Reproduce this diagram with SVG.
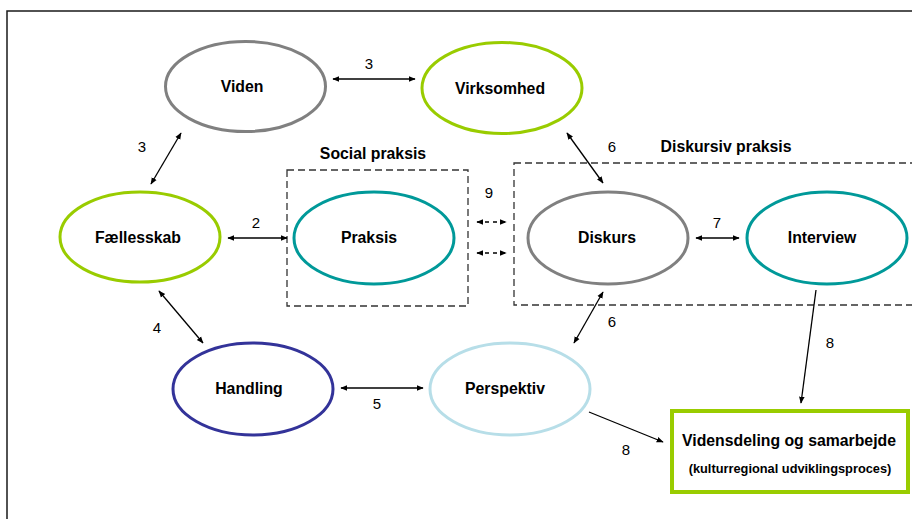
<svg xmlns="http://www.w3.org/2000/svg" width="912" height="519" viewBox="0 0 912 519">
  <style>
    .node { fill: #ffffff; stroke-width: 3; }
    .label { font-family: "Liberation Sans", Arial, sans-serif; font-weight: bold; font-size: 15.8px; fill: #000000; text-anchor: middle; }
    .num { font-family: "Liberation Sans", Arial, sans-serif; font-size: 15px; fill: #000000; text-anchor: middle; }
    .conn { stroke: #000000; stroke-width: 1.3; fill: none; }
    .dash { stroke-dasharray: 4 4; }
    .frame { fill: none; stroke: #333333; stroke-width: 1.3; stroke-dasharray: 7 4; }
  </style>
  <defs>
    <marker id="ah" viewBox="0 0 10 10" refX="9" refY="5" markerWidth="7" markerHeight="7" markerUnits="userSpaceOnUse" orient="auto-start-reverse">
      <path d="M0,1 L10,5 L0,9 Z" fill="#000000"/>
    </marker>
  </defs>

  <rect width="912" height="519" fill="#ffffff"/>
  <!-- page border -->
  <path d="M7,519 L7,11 L912,11" fill="none" stroke="#1a1a1a" stroke-width="1.5"/>

  <!-- grouping frames -->
  <g id="social-praksis">
    <rect class="frame" x="287" y="170" width="181" height="136"/>
    <text class="label" x="373" y="159">Social praksis</text>
  </g>
  <g id="diskursiv-praksis">
    <rect class="frame" x="514" y="163" width="420" height="142"/>
    <text class="label" x="726" y="152">Diskursiv praksis</text>
  </g>

  <g id="viden">
    <ellipse class="node" cx="245.5" cy="86.5" rx="80" ry="45" stroke="#808080"/>
    <text class="label" x="242" y="92">Viden</text>
  </g>
  <g id="virksomhed">
    <ellipse class="node" cx="502" cy="88" rx="80" ry="45.5" stroke="#99cc00"/>
    <text class="label" x="500" y="94">Virksomhed</text>
  </g>
  <g id="faellesskab">
    <ellipse class="node" cx="140" cy="237" rx="80" ry="45" stroke="#99cc00"/>
    <text class="label" x="138" y="243">Fællesskab</text>
  </g>
  <g id="praksis">
    <ellipse class="node" cx="374" cy="238" rx="80" ry="46" stroke="#009999"/>
    <text class="label" x="369" y="243">Praksis</text>
  </g>
  <g id="diskurs">
    <ellipse class="node" cx="608" cy="238" rx="80" ry="46" stroke="#808080"/>
    <text class="label" x="607" y="243">Diskurs</text>
  </g>
  <g id="interview">
    <ellipse class="node" cx="827" cy="238" rx="80" ry="46" stroke="#009999"/>
    <text class="label" x="822" y="243">Interview</text>
  </g>
  <g id="handling">
    <ellipse class="node" cx="253" cy="389" rx="80" ry="46" stroke="#333399"/>
    <text class="label" x="249" y="394">Handling</text>
  </g>
  <g id="perspektiv">
    <ellipse class="node" cx="510" cy="389" rx="80" ry="46" stroke="#b7dee8"/>
    <text class="label" x="505" y="394">Perspektiv</text>
  </g>
  <g id="vidensdeling">
    <rect x="672" y="411" width="236" height="81" fill="#ffffff" stroke="#99cc00" stroke-width="4"/>
    <text class="label" x="789" y="446">Vidensdeling og samarbejde</text>
    <text class="label" x="790" y="473" style="font-size:12.8px">(kulturregional udviklingsproces)</text>
  </g>

  <g id="connectors">
    <line class="conn" x1="333" y1="79" x2="415" y2="79" marker-start="url(#ah)" marker-end="url(#ah)"/>
    <line class="conn" x1="181" y1="133" x2="151" y2="184" marker-start="url(#ah)" marker-end="url(#ah)"/>
    <line class="conn" x1="567" y1="133" x2="603" y2="183" marker-start="url(#ah)" marker-end="url(#ah)"/>
    <line class="conn" x1="228" y1="238" x2="287" y2="238" marker-start="url(#ah)" marker-end="url(#ah)"/>
    <line class="conn dash" x1="477" y1="222" x2="506" y2="222" marker-start="url(#ah)" marker-end="url(#ah)"/>
    <line class="conn dash" x1="477" y1="253" x2="506" y2="253" marker-start="url(#ah)" marker-end="url(#ah)"/>
    <line class="conn" x1="696" y1="238" x2="739" y2="238" marker-start="url(#ah)" marker-end="url(#ah)"/>
    <line class="conn" x1="159" y1="291" x2="203" y2="343" marker-start="url(#ah)" marker-end="url(#ah)"/>
    <line class="conn" x1="341" y1="388" x2="423" y2="388" marker-start="url(#ah)" marker-end="url(#ah)"/>
    <line class="conn" x1="603" y1="292" x2="574" y2="343" marker-start="url(#ah)" marker-end="url(#ah)"/>
    <line class="conn" x1="816" y1="290" x2="801" y2="403" marker-end="url(#ah)"/>
    <line class="conn" x1="589" y1="412" x2="663" y2="442" marker-end="url(#ah)"/>

    <text class="num" x="369" y="69">3</text>
    <text class="num" x="142" y="152">3</text>
    <text class="num" x="612" y="152">6</text>
    <text class="num" x="256" y="228">2</text>
    <text class="num" x="489" y="198">9</text>
    <text class="num" x="717" y="228">7</text>
    <text class="num" x="157" y="333">4</text>
    <text class="num" x="377" y="409">5</text>
    <text class="num" x="612" y="327">6</text>
    <text class="num" x="830" y="348">8</text>
    <text class="num" x="626" y="455">8</text>
  </g>
</svg>
